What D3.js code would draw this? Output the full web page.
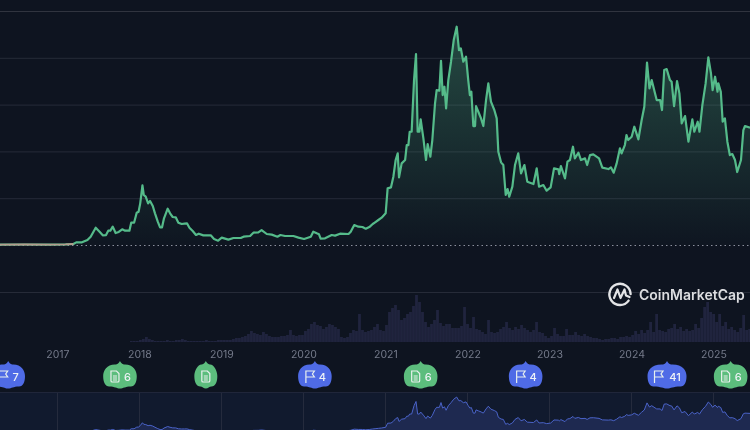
<!DOCTYPE html>
<html>
<head>
<meta charset="utf-8">
<script src="https://cdnjs.cloudflare.com/ajax/libs/d3/7.8.5/d3.min.js"></script>
<style>
  html, body { margin: 0; padding: 0; background: #0e1420; overflow: hidden; }
  svg { display: block; font-family: Inter, "Noto Sans", sans-serif; filter: blur(0.3px); }
</style>
</head>
<body>
<div id="chart"></div>
<script>
var svgWidth = 750;
var svgHeight = 430;

// price history, decimal year and usd
var priceYears = [
  2016.30, 2016.60, 2016.90, 2017.10, 2017.195, 2017.23, 2017.30, 2017.366, 2017.406, 2017.467, 2017.52, 2017.553, 2017.593, 2017.62, 2017.646, 2017.675,
  2017.71, 2017.748, 2017.79, 2017.825, 2017.878, 2017.90, 2017.935, 2017.967, 2017.99, 2018.01, 2018.037, 2018.053, 2018.077, 2018.106, 2018.13, 2018.163,
  2018.19, 2018.224, 2018.252, 2018.276, 2018.30, 2018.345, 2018.374, 2018.406, 2018.443, 2018.475, 2018.516, 2018.55, 2018.58, 2018.61, 2018.65, 2018.69,
  2018.724, 2018.78, 2018.87, 2018.91, 2018.96, 2019.004, 2019.085, 2019.146, 2019.236, 2019.27, 2019.35, 2019.39, 2019.45, 2019.49, 2019.553, 2019.614,
  2019.683, 2019.72, 2019.776, 2019.878, 2019.94, 2020.008, 2020.09, 2020.12, 2020.163, 2020.19, 2020.21, 2020.264, 2020.345, 2020.386, 2020.447, 2020.55,
  2020.577, 2020.62, 2020.67, 2020.72, 2020.76, 2020.81, 2020.845, 2020.874, 2020.914, 2020.954, 2021.003, 2021.027, 2021.068, 2021.097, 2021.125, 2021.15,
  2021.166, 2021.198, 2021.24, 2021.26, 2021.28, 2021.296, 2021.32, 2021.349, 2021.373, 2021.393, 2021.414, 2021.43, 2021.463, 2021.495, 2021.515, 2021.548,
  2021.572, 2021.605, 2021.625, 2021.658, 2021.678, 2021.698, 2021.72, 2021.74, 2021.767, 2021.80, 2021.833, 2021.869, 2021.897, 2021.92, 2021.95, 2021.983,
  2022.01, 2022.03, 2022.048, 2022.072, 2022.093, 2022.105, 2022.133, 2022.166, 2022.194, 2022.227, 2022.255, 2022.287, 2022.328, 2022.357, 2022.377, 2022.41,
  2022.438, 2022.467, 2022.49, 2022.51, 2022.548, 2022.58, 2022.62, 2022.654, 2022.695, 2022.73, 2022.805, 2022.845, 2022.873, 2022.926, 2022.966, 2023.015,
  2023.056, 2023.109, 2023.12, 2023.14, 2023.19, 2023.22, 2023.25, 2023.287, 2023.31, 2023.353, 2023.385, 2023.434, 2023.46, 2023.495, 2023.535, 2023.605,
  2023.645, 2023.72, 2023.75, 2023.784, 2023.82, 2023.86, 2023.88, 2023.92, 2023.94, 2023.96, 2024.003, 2024.035, 2024.085, 2024.125, 2024.157, 2024.19,
  2024.22, 2024.247, 2024.308, 2024.35, 2024.373, 2024.40, 2024.43, 2024.47, 2024.49, 2024.52, 2024.556, 2024.585, 2024.613, 2024.654, 2024.695, 2024.743,
  2024.767, 2024.808, 2024.83, 2024.865, 2024.905, 2024.938, 2024.97, 2024.99, 2025.02, 2025.05, 2025.06, 2025.09, 2025.113, 2025.14, 2025.17, 2025.20,
  2025.23, 2025.263, 2025.29, 2025.336, 2025.365, 2025.385, 2025.446
];
var prices = [
  10, 11, 9, 12, 21, 57, 57, 107, 178, 370, 270, 206, 213, 306, 306, 392,
  256, 278, 335, 306, 306, 477, 477, 690, 712, 890, 1275, 1068, 1032, 890, 940, 833,
  676, 498, 377, 377, 570, 776, 676, 598, 591, 477, 449, 456, 463, 370, 299, 214,
  242, 206, 206, 128, 93, 157, 114, 150, 150, 178, 192, 263, 270, 320, 235, 221,
  178, 214, 192, 192, 157, 128, 178, 285, 249, 228, 135, 142, 214, 200, 242, 235,
  285, 427, 392, 385, 349, 392, 449, 484, 534, 584, 676, 1210, 1232, 1460, 1816, 1958,
  1445, 1744, 1816, 2136, 2136, 2420, 2420, 3524, 4080, 2420, 2420, 2684, 2278, 1816, 2157, 1887,
  2243, 3026, 3310, 3296, 3937, 3204, 3382, 2919, 3524, 3916, 4379, 4664, 4165, 4200, 3916, 4023,
  3524, 3204, 3275, 2542, 2542, 2969, 2848, 2706, 2542, 3097, 3453, 3062, 2884, 2706, 1994, 1766,
  1709, 1068, 1196, 1032, 1246, 1709, 1958, 1531, 1709, 1353, 1303, 1638, 1246, 1282, 1160, 1232,
  1638, 1616, 1516, 1687, 1424, 1780, 1816, 2100, 1851, 1972, 1816, 1851, 1709, 1922, 1937, 1851,
  1652, 1623, 1659, 1545, 1744, 2065, 1958, 2136, 2350, 2243, 2314, 2528, 2257, 2670, 2955, 3895,
  3346, 3524, 3097, 3097, 2884, 3738, 3759, 3524, 3489, 2969, 3503, 3240, 2599, 2755, 2207, 2684,
  2420, 2634, 2420, 2990, 3453, 4008, 3667, 3310, 3596, 3275, 3453, 3275, 2634, 2706, 2207, 1922,
  1944, 1816, 1559, 1816, 2456, 2542, 2506
];

// traded volume, one value every 13 days or so from volumeStart
var volumeStart = 2017.885;
var volumeStep = 0.0366;
var volumes = [
  1, 1, 1, 2, 3, 5, 3, 2, 1, 1, 1, 1, 2, 1, 1, 2, 2, 3, 2, 1, 1, 1, 1, 1, 1, 2, 1, 1, 1, 2, 2, 2, 2,
  2, 3, 4, 4, 5, 6, 8, 11, 9, 8, 7, 10, 8, 6, 5, 5, 5, 6, 6, 7, 12, 7, 6, 7, 7, 11, 13, 18, 20, 17, 16, 13, 15, 18, 17, 15, 13,
  5, 4, 5, 9, 12, 11, 28, 12, 10, 11, 12, 15, 18, 12, 11, 17, 30, 34, 37, 32, 22, 24, 28, 30, 36, 47, 40, 30, 20, 15, 18, 22, 32, 19, 16, 18, 18, 14, 14, 14, 16, 35, 18, 14, 25, 13, 12, 10, 8, 22, 10, 9, 10, 13, 15, 20, 14, 12, 15, 13, 17, 14, 12, 10, 12, 20, 10, 9, 6, 4,
  6, 14, 8, 6, 6, 13, 7, 7, 10, 7, 6, 8, 6, 5, 4, 4, 3, 2, 3, 3, 4, 4, 3, 5, 5, 6, 5, 7, 11, 8, 12, 9, 12, 20, 10, 28, 12, 11, 10, 13, 14, 18, 13, 15, 11, 13, 11, 12, 18, 14, 24, 35, 40, 30, 28, 20, 28, 16, 20, 13, 15, 12, 10, 14, 27, 12, 13
];

var yearTicks = [2017, 2018, 2019, 2020, 2021, 2022, 2023, 2024, 2025];
var priceTicks = [1000, 2000, 3000, 4000, 5000];

// event badges under the axis
var eventYears = [2016.40, 2017.763, 2018.81, 2020.14, 2021.43, 2022.71, 2024.434, 2025.21];
var eventKinds = ["flag", "doc", "doc", "flag", "doc", "flag", "flag", "doc"];
var eventCounts = ["7", "6", "", "4", "6", "4", "41", "6"];

var bgColor = "#0e1420";
var gridColor = "#262b38";
var lineColor = "#55bb8a";

var svg = d3.select("#chart")
  .append("svg")
  .attr("width", svgWidth)
  .attr("height", svgHeight);

svg.append("rect")
  .attr("width", svgWidth)
  .attr("height", svgHeight)
  .attr("fill", bgColor);

var xScale = d3.scaleLinear().domain([2016.3, 2025.446]).range([0, svgWidth]);
var yScale = d3.scaleLinear().domain([0, 5000]).range([245, 11]);
var volScale = d3.scaleLinear().domain([0, 50]).range([342, 292]);
var navScale = d3.scaleLinear().domain([0, 5000]).range([432.4, 394.5]);

var priceData = prices.map(function(p, i) { return { year: priceYears[i], price: p }; });

var defs = svg.append("defs");
var grad = defs.append("linearGradient")
  .attr("id", "areaFill")
  .attr("gradientUnits", "userSpaceOnUse")
  .attr("x1", 0).attr("x2", 0)
  .attr("y1", 30).attr("y2", 245);
grad.append("stop").attr("offset", "0%").attr("stop-color", lineColor).attr("stop-opacity", 0.32);
grad.append("stop").attr("offset", "100%").attr("stop-color", lineColor).attr("stop-opacity", 0.01);

// gridlines
var grid = svg.append("g")
  .call(d3.axisLeft(yScale).tickValues(priceTicks).tickSize(-svgWidth).tickFormat(""));
grid.select(".domain").remove();
grid.selectAll("line").attr("stroke", function(d) { return d === 5000 ? "#30343f" : gridColor; });

svg.append("line")
  .attr("x1", 0).attr("x2", svgWidth)
  .attr("y1", volScale(50) + 0.5).attr("y2", volScale(50) + 0.5)
  .attr("stroke", gridColor);

// volume bars
svg.append("g").selectAll("rect")
  .data(volumes)
  .enter()
  .append("rect")
  .attr("x", function(d, i) { return xScale(volumeStart + i * volumeStep); })
  .attr("y", function(d) { return volScale(d); })
  .attr("width", 2.8)
  .attr("height", function(d) { return volScale(0) - volScale(d); })
  .attr("fill", "#20243e");

// price area and line
var area = d3.area()
  .x(function(d) { return xScale(d.year); })
  .y0(yScale(0))
  .y1(function(d) { return yScale(d.price); });

var line = d3.line()
  .x(function(d) { return xScale(d.year); })
  .y(function(d) { return yScale(d.price); });

svg.append("path")
  .datum(priceData)
  .attr("d", area)
  .attr("fill", "url(#areaFill)");

svg.append("line")
  .attr("x1", 0).attr("x2", svgWidth)
  .attr("y1", yScale(0) + 0.5).attr("y2", yScale(0) + 0.5)
  .attr("stroke", "#8a8f9c")
  .attr("stroke-dasharray", "1.5 3");

svg.append("path")
  .datum(priceData)
  .attr("d", line)
  .attr("fill", "none")
  .attr("stroke", lineColor)
  .attr("stroke-width", 2.2)
  .attr("stroke-linejoin", "round");

// the earliest stretch is tinted
svg.append("path")
  .datum(priceData.slice(0, 5))
  .attr("d", line)
  .attr("fill", "none")
  .attr("stroke", "#b39c8c")
  .attr("stroke-width", 1.8);

// year axis
var xAxis = svg.append("g")
  .attr("transform", "translate(0,346)")
  .call(d3.axisBottom(xScale).tickValues(yearTicks).tickFormat(d3.format("d")).tickSize(0).tickPadding(5));
xAxis.select(".domain").remove();
xAxis.selectAll("text")
  .attr("fill", "#747a8a")
  .attr("font-size", "10.5px")
  .attr("font-family", "Inter");

// navigator
svg.append("rect")
  .attr("x", 0).attr("y", 393)
  .attr("width", svgWidth).attr("height", 37)
  .attr("fill", "#111a2e");

svg.append("line")
  .attr("x1", 0).attr("x2", svgWidth)
  .attr("y1", 392.5).attr("y2", 392.5)
  .attr("stroke", "#20263a");

svg.append("g").selectAll("line")
  .data(yearTicks)
  .enter()
  .append("line")
  .attr("x1", function(d) { return Math.round(xScale(d)) + 0.5; })
  .attr("x2", function(d) { return Math.round(xScale(d)) + 0.5; })
  .attr("y1", 393)
  .attr("y2", 430)
  .attr("stroke", "#252b3d");

var navArea = d3.area()
  .x(function(d) { return xScale(d.year); })
  .y0(svgHeight + 5)
  .y1(function(d) { return navScale(d.price); });

var navLine = d3.line()
  .x(function(d) { return xScale(d.year); })
  .y(function(d) { return navScale(d.price); });

svg.append("path")
  .datum(priceData)
  .attr("d", navArea)
  .attr("fill", "#1e2950");

svg.append("path")
  .datum(priceData)
  .attr("d", navLine)
  .attr("fill", "none")
  .attr("stroke", "#4a63c8")
  .attr("stroke-width", 1);

// badges, round lobes with a small tip on top
function badgePath(hw) {
  return "M0,-15.5 C1,-13.5 2,-12.6 4,-12" +
    " C" + (hw - 4) + ",-12.6 " + hw + ",-6 " + hw + ",-0.5" +
    " C" + hw + ",5.5 " + (hw - 2) + ",10 " + (hw - 6) + ",10" +
    " C" + (hw * 0.3) + ",10 " + (hw * 0.2) + ",12 0,12" +
    " C" + (-hw * 0.2) + ",12 " + (-hw * 0.3) + ",10 " + (-hw + 6) + ",10" +
    " C" + (-hw + 2) + ",10 " + (-hw) + ",5.5 " + (-hw) + ",-0.5" +
    " C" + (-hw) + ",-6 " + (-hw + 4) + ",-12.6 -4,-12" +
    " C-2,-12.6 -1,-13.5 0,-15.5 Z";
}

var docIcon = "M-4,-5.5 H1.5 L4,-3 V4.2 Q4,5.5 2.8,5.5 H-2.8 Q-4,5.5 -4,4.2 V-5.5 Z M-2,-0.5 H2 M-2,1.5 H2 M-2,3.5 H2";
var flagIcon = "M-4,6.5 V-5.5 H4.5 L2.5,-2.5 L4.5,0.5 H-4";

var badges = svg.append("g").selectAll("g")
  .data(eventYears)
  .enter()
  .append("g")
  .attr("transform", function(d) { return "translate(" + xScale(d) + ",376.5)"; });

badges.append("path")
  .attr("d", function(d, i) {
    var n = eventCounts[i].length;
    return badgePath(n === 0 ? 11.5 : n === 1 ? 16.8 : 19.5);
  })
  .attr("fill", function(d, i) { return eventKinds[i] === "flag" ? "#4f6be6" : "#5cbd7d"; });

badges.append("path")
  .attr("d", function(d, i) { return eventKinds[i] === "flag" ? flagIcon : docIcon; })
  .attr("transform", function(d, i) {
    var n = eventCounts[i].length;
    var dx = n === 0 ? 0 : n === 1 ? -5 : -8.5;
    return "translate(" + dx + ",0)";
  })
  .attr("fill", "none")
  .attr("stroke", "#e8f0ee")
  .attr("stroke-width", 1.2);

badges.append("text")
  .attr("x", function(d, i) { return eventCounts[i].length > 1 ? 8 : 7.5; })
  .attr("y", 4)
  .attr("text-anchor", "middle")
  .attr("fill", "#eef2f6")
  .attr("font-size", "11px")
  .attr("font-weight", 500)
  .text(function(d, i) { return eventCounts[i]; });

// watermark
var logo = svg.append("g").attr("transform", "translate(620,294)");
logo.append("path")
  .attr("d", "M8.6,6.6 A10.6,10.6 0 1 1 10.6,0")
  .attr("fill", "none")
  .attr("stroke", "#e3e4e6")
  .attr("stroke-width", 2.4)
  .attr("stroke-linecap", "round");
logo.append("path")
  .attr("d", "M-6,4 L-2.5,-4.5 L0.5,4 L4.5,-4.5 L6,1.5 L9.5,3")
  .attr("fill", "none")
  .attr("stroke", "#e3e4e6")
  .attr("stroke-width", 2.2)
  .attr("stroke-linejoin", "round")
  .attr("stroke-linecap", "round");

svg.append("text")
  .attr("x", 639)
  .attr("y", 300)
  .attr("fill", "#dcdde0")
  .attr("font-size", "14px")
  .attr("font-weight", 600)
  .text("CoinMarketCap");
</script>
</body>
</html>
